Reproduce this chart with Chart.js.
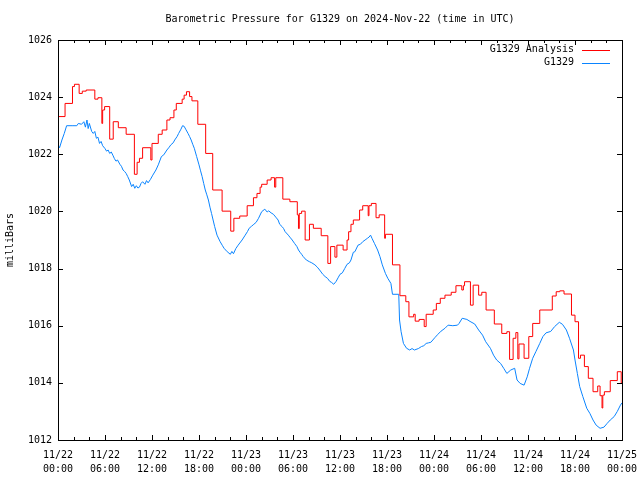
<!DOCTYPE html>
<html>
<head>
<meta charset="utf-8">
<title>Barometric Pressure G1329</title>
<script src="https://cdn.jsdelivr.net/npm/chart.js@4.4.1/dist/chart.umd.min.js"></script>
<style>
  html, body { margin: 0; padding: 0; background: #fff; }
  #pressureCanvas { display: block; }
</style>
</head>
<body>
<canvas id="pressureCanvas" width="640" height="480"></canvas>
<script>
/* ====== DATA (hours since 2024-11-22 00:00 UTC, millibars) ====== */
const titleText = 'Barometric Pressure for G1329 on 2024-Nov-22 (time in UTC)';
const seriesNames = ['G1329 Analysis', 'G1329'];
const xTickLabels = [
    ['11/22', '00:00'], ['11/22', '06:00'], ['11/22', '12:00'], ['11/22', '18:00'],
    ['11/23', '00:00'], ['11/23', '06:00'], ['11/23', '12:00'], ['11/23', '18:00'],
    ['11/24', '00:00'], ['11/24', '06:00'], ['11/24', '12:00'], ['11/24', '18:00'],
    ['11/25', '00:00']
];
const yTicks = [1012, 1014, 1016, 1018, 1020, 1022, 1024, 1026];

// analysis series is a step series: each value holds until the next hour entry
const analysisHours = [
    0, 0.9, 1.85, 2.1, 2.7, 3.1, 3.6, 4.7, 5.1, 5.6, 5.7, 5.95, 6.6, 7.05, 7.7, 8.7,
    9.75, 10.1, 10.4, 10.8, 11.85, 12.0, 12.8, 13.3, 13.9, 14.3, 14.8, 15.1, 15.85, 16.1, 16.4, 16.8,
    17.1, 17.85, 18.85, 19.75, 20.95, 22.05, 22.45, 23.2, 24.15, 24.95, 25.4, 25.8, 26.0, 26.7,
    27.2, 27.65, 27.8, 28.7, 29.6, 30.55, 30.7, 30.8, 31.1, 31.55, 32.1, 32.6, 33.6, 34.45,
    34.8, 35.35, 35.6, 36.4, 36.9, 37.1, 37.4, 37.7, 38.5, 38.9, 39.6, 39.7, 40.0, 40.6,
    41.0, 41.7, 41.8, 42.7, 43.65, 44.4, 44.8, 45.4, 45.6, 46.1, 46.75, 47.0, 47.9, 48.3,
    48.8, 49.4, 50.2, 50.8, 51.55, 51.75, 51.9, 52.65, 53.0, 53.7, 54.1, 54.65, 55.7, 56.65,
    57.3, 57.65, 58.1, 58.45, 58.7, 58.85, 59.5, 60.1, 60.6, 61.5, 63.1, 63.6, 64.05, 64.6,
    65.55, 66.0, 66.45, 66.7, 67.2, 67.7, 68.3, 68.9, 69.2, 69.45, 69.55, 69.75, 70.5, 71.4,
    71.9, 72.0
];
const analysisValues = [
    1023.32, 1023.78, 1024.37, 1024.45, 1024.13, 1024.21, 1024.25, 1023.93, 1023.98, 1023.08, 1023.55, 1023.67, 1022.53, 1023.14, 1022.93, 1022.70,
    1021.30, 1021.72, 1021.86, 1022.23, 1021.80, 1022.38, 1022.70, 1022.85, 1023.20, 1023.28, 1023.55, 1023.78, 1023.93, 1024.07, 1024.19, 1024.02,
    1023.87, 1023.05, 1022.03, 1020.75, 1020.01, 1019.31, 1019.76, 1019.84, 1020.20, 1020.48, 1020.63, 1020.85, 1020.95, 1021.10,
    1021.18, 1020.85, 1021.18, 1020.43, 1020.34, 1019.88, 1019.40, 1019.93, 1020.01, 1019.00, 1019.55, 1019.41, 1019.15, 1018.18,
    1018.77, 1018.40, 1018.82, 1018.65, 1019.00, 1019.29, 1019.55, 1019.70, 1020.05, 1020.20, 1019.85, 1020.20, 1020.28, 1019.78,
    1019.88, 1019.06, 1019.20, 1018.13, 1017.05, 1016.84, 1016.31, 1016.40, 1016.16, 1016.22, 1015.97, 1016.40, 1016.55, 1016.78,
    1016.96, 1017.07, 1017.17, 1017.40, 1017.25, 1017.40, 1017.54, 1016.72, 1017.42, 1017.07, 1017.17, 1016.55, 1016.06, 1015.73,
    1015.79, 1014.82, 1015.56, 1015.76, 1014.84, 1015.36, 1014.86, 1015.62, 1016.08, 1016.55, 1017.04, 1017.19, 1017.22, 1017.11,
    1016.37, 1016.14, 1014.86, 1014.97, 1014.57, 1014.16, 1013.69, 1013.89, 1013.55, 1013.12, 1013.57, 1013.69, 1014.08, 1014.39,
    1014.00, 1014.00
];

const stationHours = [
    0, 0.2, 0.5, 0.8, 1.1, 1.8, 2.4, 2.6, 3.0, 3.3, 3.5, 3.7, 3.85, 4.0, 4.3, 4.5, 4.7, 4.9, 5.1, 5.3,
    5.5, 5.7, 6.0, 6.2, 6.4, 6.6, 6.8, 7.0, 7.2, 7.4, 7.6, 7.9, 8.1, 8.3, 8.5, 8.7, 8.9, 9.1, 9.4, 9.6,
    9.8, 10.0, 10.2, 10.4, 10.6, 10.8, 11.1, 11.3, 11.5, 11.8, 12.1, 12.5, 12.8, 13.2, 13.5, 13.9, 14.2, 14.4,
    14.7, 14.9, 15.2, 15.4, 15.7, 15.9, 16.1, 16.3, 16.6, 16.8, 17.0, 17.2, 17.4, 17.7, 18.0, 18.2, 18.4, 18.6,
    18.8, 19.0, 19.2, 19.4, 19.6, 19.8, 20.0, 20.3, 20.7, 21.0, 21.2, 21.6, 22.0, 22.2, 22.4, 22.7, 23.0, 23.5,
    23.9, 24.2, 24.4, 24.7, 25.0, 25.3, 25.6, 26.0, 26.4, 26.7, 26.9, 27.2, 27.5, 27.8, 28.1, 28.3, 28.6, 28.8,
    29.0, 29.4, 29.6, 29.9, 30.2, 30.5, 30.7, 30.9, 31.1, 31.3, 31.7, 32.1, 32.4, 32.8, 33.1, 33.4, 33.8, 34.1,
    34.4, 34.7, 34.9, 35.2, 35.5, 35.8, 36.0, 36.3, 36.6, 36.9, 37.2, 37.4, 37.7, 37.9, 38.3, 38.6, 38.9, 39.2,
    39.5, 39.7, 39.9, 40.1, 40.4, 40.8, 41.1, 41.4, 41.8, 42.1, 42.5, 42.7, 43.5, 43.6, 43.8, 44.1, 44.5, 44.9,
    45.2, 45.5, 46.0, 46.4, 46.7, 47.0, 47.3, 47.6, 48.1, 48.5, 48.9, 49.4, 49.8, 50.4, 51.0, 51.2, 51.6, 52.2,
    52.6, 53.2, 53.7, 54.2, 54.6, 55.2, 55.6, 56.0, 56.5, 56.9, 57.3, 57.8, 58.3, 58.6, 59.0, 59.5, 59.9, 60.2,
    60.6, 61.0, 61.5, 61.9, 62.3, 62.9, 63.4, 64.0, 64.4, 64.9, 65.3, 65.8, 66.0, 66.3, 66.6, 67.0, 67.5, 67.9,
    68.3, 68.7, 69.2, 69.7, 70.1, 70.5, 71.0, 71.4, 71.8, 72.0
];
const stationValues = [
    1022.33, 1022.23, 1022.50, 1022.73, 1023.00, 1023.00, 1023.00, 1023.08, 1023.05, 1023.14, 1022.95, 1023.20, 1022.90, 1023.08, 1022.80, 1022.73, 1022.80, 1022.56, 1022.60, 1022.38,
    1022.45, 1022.30, 1022.20, 1022.11, 1022.15, 1022.03, 1022.08, 1021.97, 1021.85, 1021.76, 1021.80, 1021.65, 1021.58, 1021.45, 1021.40, 1021.33, 1021.22, 1021.10, 1020.87, 1020.95,
    1020.81, 1020.90, 1020.82, 1020.85, 1020.98, 1021.04, 1020.95, 1021.08, 1021.00, 1021.12, 1021.27, 1021.45, 1021.63, 1021.92, 1021.98, 1022.15, 1022.25, 1022.33,
    1022.40, 1022.50, 1022.62, 1022.73, 1022.88, 1023.00, 1022.98, 1022.88, 1022.73, 1022.62, 1022.50, 1022.35, 1022.21, 1021.92, 1021.63, 1021.42, 1021.22, 1020.98,
    1020.75, 1020.58, 1020.40, 1020.15, 1019.93, 1019.70, 1019.47, 1019.17, 1018.94, 1018.80, 1018.71, 1018.59, 1018.50, 1018.60, 1018.52, 1018.70, 1018.82, 1019.00,
    1019.17, 1019.30, 1019.41, 1019.48, 1019.55, 1019.62, 1019.76, 1019.99, 1020.08, 1019.98, 1020.02, 1019.95, 1019.90, 1019.80, 1019.70, 1019.55, 1019.47, 1019.40,
    1019.29, 1019.17, 1019.10, 1019.00, 1018.88, 1018.77, 1018.65, 1018.57, 1018.50, 1018.42, 1018.30, 1018.24, 1018.20, 1018.13, 1018.05, 1017.95, 1017.80, 1017.72,
    1017.66, 1017.55, 1017.52, 1017.45, 1017.55, 1017.70, 1017.80, 1017.85, 1018.00, 1018.15, 1018.20, 1018.30, 1018.57, 1018.59, 1018.82, 1018.85, 1018.94, 1019.00,
    1019.06, 1019.10, 1019.17, 1019.05, 1018.88, 1018.65, 1018.42, 1018.13, 1017.83, 1017.66, 1017.48, 1017.10, 1017.10, 1016.20, 1015.79, 1015.38, 1015.21, 1015.15,
    1015.20, 1015.15, 1015.20, 1015.27, 1015.30, 1015.38, 1015.40, 1015.42, 1015.58, 1015.70, 1015.81, 1015.91, 1016.02, 1016.00, 1016.02, 1016.08, 1016.26, 1016.22,
    1016.15, 1016.06, 1015.85, 1015.67, 1015.44, 1015.21, 1014.97, 1014.80, 1014.68, 1014.51, 1014.33, 1014.45, 1014.51, 1014.10, 1013.98, 1013.92, 1014.21, 1014.51,
    1014.86, 1015.09, 1015.38, 1015.62, 1015.75, 1015.80, 1015.97, 1016.12, 1016.05, 1015.85, 1015.56, 1015.15, 1014.80, 1014.33, 1013.87, 1013.52, 1013.11, 1012.93,
    1012.70, 1012.52, 1012.41, 1012.45, 1012.58, 1012.70, 1012.82, 1013.00, 1013.22, 1013.30
];

/* ====== SETUP ====== */
const FONT = '"DejaVu Sans Mono", "Liberation Mono", monospace';
const RED = '#ff0000';
const BLUE = '#0a84ff';

function toPoints(xs, ys) {
    return xs.map((x, i) => ({ x: x, y: ys[i] }));
}

/* gnuplot style frame: full border, inward ticks, legend inside top right */
const framePlugin = {
    id: 'frame',
    afterDraw(chart) {
        const { ctx, chartArea: a, scales } = chart;
        ctx.save();
        ctx.strokeStyle = '#000';
        ctx.lineWidth = 1;
        ctx.beginPath();
        // x ticks every 2 h, long ones every 6 h
        for (let h = 0; h <= 72; h += 2) {
            const px = Math.round(scales.x.getPixelForValue(h)) + 0.5;
            const len = h % 6 === 0 ? 5 : 3;
            ctx.moveTo(px, a.bottom); ctx.lineTo(px, a.bottom - len);
            ctx.moveTo(px, a.top); ctx.lineTo(px, a.top + len);
        }
        yTicks.forEach(v => {
            const py = Math.round(scales.y.getPixelForValue(v)) + 0.5;
            ctx.moveTo(a.left, py); ctx.lineTo(a.left + 5, py);
            ctx.moveTo(a.right, py); ctx.lineTo(a.right - 5, py);
        });
        ctx.stroke();
        ctx.strokeRect(Math.round(a.left) + 0.5, Math.round(a.top) + 0.5,
            Math.round(a.right - a.left), Math.round(a.bottom - a.top));

        // legend
        ctx.font = '10px ' + FONT;
        ctx.textAlign = 'right';
        ctx.textBaseline = 'middle';
        chart.data.datasets.forEach((ds, i) => {
            const y = a.top + 9.5 + i * 13;
            ctx.fillStyle = '#000';
            ctx.fillText(ds.label, a.right - 48, y);
            ctx.strokeStyle = ds.borderColor;
            ctx.beginPath();
            ctx.moveTo(a.right - 40, Math.round(y) + 0.5);
            ctx.lineTo(a.right - 12, Math.round(y) + 0.5);
            ctx.stroke();
        });
        ctx.restore();
    }
};

/* ====== CHART ====== */
const canvas = document.getElementById('pressureCanvas');
const chart = new Chart(canvas.getContext('2d'), {
    type: 'line',
    data: {
        datasets: [
            {
                label: seriesNames[0],
                data: toPoints(analysisHours, analysisValues),
                borderColor: RED,
                borderWidth: 1,
                pointRadius: 0,
                stepped: true,
                fill: false
            },
            {
                label: seriesNames[1],
                data: toPoints(stationHours, stationValues),
                borderColor: BLUE,
                borderWidth: 1,
                pointRadius: 0,
                tension: 0,
                fill: false
            }
        ]
    },
    options: {
        responsive: false,
        animation: false,
        layout: { padding: { left: 0, right: 18, top: 0, bottom: 0 } },
        scales: {
            x: {
                type: 'linear',
                min: 0,
                max: 72,
                grid: { display: false, drawTicks: false },
                border: { display: false },
                afterBuildTicks: scale => {
                    scale.ticks = xTickLabels.map((_, i) => ({ value: i * 6 }));
                },
                ticks: {
                    autoSkip: false,
                    maxRotation: 0,
                    padding: 8,
                    color: '#000',
                    font: { family: FONT, size: 10, lineHeight: 1.4 },
                    callback: (val) => xTickLabels[Math.round(val / 6)]
                },
                afterFit: scale => {
                    scale.height = 40;
                    // labels may overhang, the layout padding already leaves room
                    scale.paddingLeft = 0;
                    scale.paddingRight = 0;
                }
            },
            y: {
                min: 1012,
                max: 1026,
                grid: { display: false, drawTicks: false },
                border: { display: false },
                afterBuildTicks: scale => {
                    scale.ticks = yTicks.map(v => ({ value: v }));
                },
                ticks: {
                    padding: 6,
                    color: '#000',
                    font: { family: FONT, size: 10 },
                    callback: (val) => String(val)
                },
                title: {
                    display: true,
                    text: 'milliBars',
                    color: '#000',
                    font: { family: FONT, size: 10 },
                    padding: { top: 4, bottom: 0 }
                },
                afterFit: scale => {
                    scale.width = 58;
                    scale.paddingTop = 0;
                    scale.paddingBottom = 0;
                }
            }
        },
        plugins: {
            legend: { display: false },
            tooltip: { enabled: false },
            title: {
                display: true,
                text: titleText,
                fullSize: false,
                color: '#000',
                font: { family: FONT, size: 10, weight: 'normal' },
                padding: { top: 13, bottom: 15 }
            }
        }
    },
    plugins: [framePlugin]
});
</script>
</body>
</html>
